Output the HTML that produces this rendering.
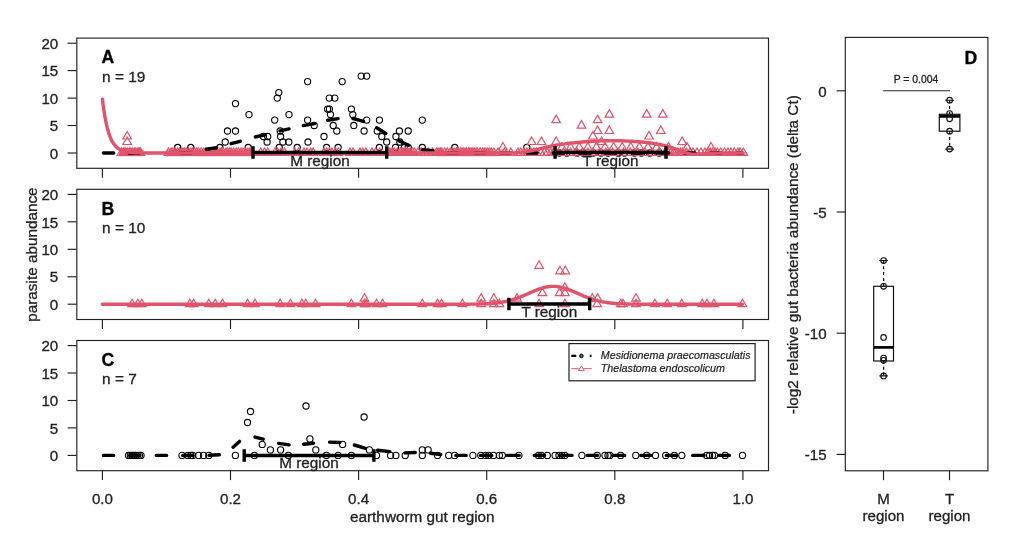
<!DOCTYPE html>
<html><head><meta charset="utf-8"><title>Figure</title>
<style>
html,body{margin:0;padding:0;background:#fff;}
svg{display:block}
text{font-family:"Liberation Sans",Arial,sans-serif;fill:#222;stroke:#222;stroke-width:0.3px}
.tk{font-size:15.1px}
.ax{font-size:15.3px}
.rg{font-size:15.3px}
.nn{font-size:15.4px}
.pl{font-size:17.6px;font-weight:bold;fill:#000;stroke:#000;stroke-width:0.3px}
.lg{font-size:10.7px;font-style:italic;stroke-width:0.2px}
.pv{font-size:10.4px}
</style></head><body>
<svg width="1024" height="552" viewBox="0 0 1024 552">
<rect width="1024" height="552" fill="#fff"/>
<rect x="76.8" y="38.1" width="691.7" height="130.2" fill="none" stroke="#222" stroke-width="1.15"/>
<line x1="67.6" y1="153.0" x2="76.8" y2="153.0" stroke="#222" stroke-width="1.15"/>
<text x="58.2" y="158.7" text-anchor="end" class="tk">0</text>
<line x1="67.6" y1="125.5" x2="76.8" y2="125.5" stroke="#222" stroke-width="1.15"/>
<text x="58.2" y="131.2" text-anchor="end" class="tk">5</text>
<line x1="67.6" y1="98.1" x2="76.8" y2="98.1" stroke="#222" stroke-width="1.15"/>
<text x="58.2" y="103.8" text-anchor="end" class="tk">10</text>
<line x1="67.6" y1="70.6" x2="76.8" y2="70.6" stroke="#222" stroke-width="1.15"/>
<text x="58.2" y="76.3" text-anchor="end" class="tk">15</text>
<line x1="67.6" y1="43.2" x2="76.8" y2="43.2" stroke="#222" stroke-width="1.15"/>
<text x="58.2" y="48.9" text-anchor="end" class="tk">20</text>
<line x1="102.4" y1="168.3" x2="102.4" y2="177.7" stroke="#222" stroke-width="1.15"/>
<line x1="230.5" y1="168.3" x2="230.5" y2="177.7" stroke="#222" stroke-width="1.15"/>
<line x1="358.6" y1="168.3" x2="358.6" y2="177.7" stroke="#222" stroke-width="1.15"/>
<line x1="486.7" y1="168.3" x2="486.7" y2="177.7" stroke="#222" stroke-width="1.15"/>
<line x1="614.8" y1="168.3" x2="614.8" y2="177.7" stroke="#222" stroke-width="1.15"/>
<line x1="742.9" y1="168.3" x2="742.9" y2="177.7" stroke="#222" stroke-width="1.15"/>
<circle cx="235.5" cy="103.6" r="3.1" fill="none" stroke="#000" stroke-width="1.1"/>
<circle cx="249.0" cy="114.6" r="3.1" fill="none" stroke="#000" stroke-width="1.1"/>
<circle cx="278.8" cy="92.6" r="3.1" fill="none" stroke="#000" stroke-width="1.1"/>
<circle cx="277.3" cy="98.1" r="3.1" fill="none" stroke="#000" stroke-width="1.1"/>
<circle cx="274.7" cy="120.1" r="3.1" fill="none" stroke="#000" stroke-width="1.1"/>
<circle cx="289.0" cy="114.6" r="3.1" fill="none" stroke="#000" stroke-width="1.1"/>
<circle cx="227.5" cy="131.0" r="3.1" fill="none" stroke="#000" stroke-width="1.1"/>
<circle cx="235.5" cy="131.0" r="3.1" fill="none" stroke="#000" stroke-width="1.1"/>
<circle cx="225.2" cy="142.0" r="3.1" fill="none" stroke="#000" stroke-width="1.1"/>
<circle cx="219.9" cy="147.5" r="3.1" fill="none" stroke="#000" stroke-width="1.1"/>
<circle cx="177.7" cy="147.5" r="3.1" fill="none" stroke="#000" stroke-width="1.1"/>
<circle cx="190.8" cy="147.5" r="3.1" fill="none" stroke="#000" stroke-width="1.1"/>
<circle cx="248.2" cy="147.5" r="3.1" fill="none" stroke="#000" stroke-width="1.1"/>
<circle cx="267.7" cy="136.5" r="3.1" fill="none" stroke="#000" stroke-width="1.1"/>
<circle cx="267.1" cy="142.0" r="3.1" fill="none" stroke="#000" stroke-width="1.1"/>
<circle cx="280.2" cy="131.0" r="3.1" fill="none" stroke="#000" stroke-width="1.1"/>
<circle cx="280.6" cy="136.5" r="3.1" fill="none" stroke="#000" stroke-width="1.1"/>
<circle cx="282.9" cy="142.0" r="3.1" fill="none" stroke="#000" stroke-width="1.1"/>
<circle cx="279.2" cy="147.5" r="3.1" fill="none" stroke="#000" stroke-width="1.1"/>
<circle cx="288.8" cy="142.0" r="3.1" fill="none" stroke="#000" stroke-width="1.1"/>
<circle cx="263.4" cy="136.5" r="3.1" fill="none" stroke="#000" stroke-width="1.1"/>
<circle cx="307.6" cy="81.6" r="3.1" fill="none" stroke="#000" stroke-width="1.1"/>
<circle cx="342.2" cy="81.6" r="3.1" fill="none" stroke="#000" stroke-width="1.1"/>
<circle cx="361.2" cy="76.1" r="3.1" fill="none" stroke="#000" stroke-width="1.1"/>
<circle cx="366.7" cy="76.1" r="3.1" fill="none" stroke="#000" stroke-width="1.1"/>
<circle cx="329.3" cy="98.1" r="3.1" fill="none" stroke="#000" stroke-width="1.1"/>
<circle cx="334.8" cy="98.1" r="3.1" fill="none" stroke="#000" stroke-width="1.1"/>
<circle cx="327.6" cy="109.1" r="3.1" fill="none" stroke="#000" stroke-width="1.1"/>
<circle cx="329.4" cy="109.1" r="3.1" fill="none" stroke="#000" stroke-width="1.1"/>
<circle cx="351.4" cy="109.1" r="3.1" fill="none" stroke="#000" stroke-width="1.1"/>
<circle cx="330.5" cy="114.6" r="3.1" fill="none" stroke="#000" stroke-width="1.1"/>
<circle cx="352.8" cy="114.6" r="3.1" fill="none" stroke="#000" stroke-width="1.1"/>
<circle cx="307.6" cy="120.1" r="3.1" fill="none" stroke="#000" stroke-width="1.1"/>
<circle cx="366.7" cy="120.1" r="3.1" fill="none" stroke="#000" stroke-width="1.1"/>
<circle cx="379.4" cy="120.1" r="3.1" fill="none" stroke="#000" stroke-width="1.1"/>
<circle cx="422.3" cy="120.1" r="3.1" fill="none" stroke="#000" stroke-width="1.1"/>
<circle cx="314.2" cy="125.5" r="3.1" fill="none" stroke="#000" stroke-width="1.1"/>
<circle cx="333.2" cy="125.5" r="3.1" fill="none" stroke="#000" stroke-width="1.1"/>
<circle cx="353.8" cy="125.5" r="3.1" fill="none" stroke="#000" stroke-width="1.1"/>
<circle cx="336.8" cy="131.0" r="3.1" fill="none" stroke="#000" stroke-width="1.1"/>
<circle cx="364.1" cy="131.0" r="3.1" fill="none" stroke="#000" stroke-width="1.1"/>
<circle cx="377.3" cy="131.0" r="3.1" fill="none" stroke="#000" stroke-width="1.1"/>
<circle cx="399.4" cy="131.0" r="3.1" fill="none" stroke="#000" stroke-width="1.1"/>
<circle cx="408.2" cy="131.0" r="3.1" fill="none" stroke="#000" stroke-width="1.1"/>
<circle cx="324.0" cy="136.5" r="3.1" fill="none" stroke="#000" stroke-width="1.1"/>
<circle cx="381.8" cy="136.5" r="3.1" fill="none" stroke="#000" stroke-width="1.1"/>
<circle cx="395.9" cy="136.5" r="3.1" fill="none" stroke="#000" stroke-width="1.1"/>
<circle cx="308.0" cy="142.0" r="3.1" fill="none" stroke="#000" stroke-width="1.1"/>
<circle cx="386.7" cy="142.0" r="3.1" fill="none" stroke="#000" stroke-width="1.1"/>
<circle cx="399.8" cy="142.0" r="3.1" fill="none" stroke="#000" stroke-width="1.1"/>
<circle cx="297.2" cy="147.5" r="3.1" fill="none" stroke="#000" stroke-width="1.1"/>
<circle cx="326.6" cy="147.5" r="3.1" fill="none" stroke="#000" stroke-width="1.1"/>
<circle cx="338.1" cy="147.5" r="3.1" fill="none" stroke="#000" stroke-width="1.1"/>
<circle cx="379.4" cy="147.5" r="3.1" fill="none" stroke="#000" stroke-width="1.1"/>
<circle cx="395.5" cy="147.5" r="3.1" fill="none" stroke="#000" stroke-width="1.1"/>
<circle cx="404.3" cy="147.5" r="3.1" fill="none" stroke="#000" stroke-width="1.1"/>
<circle cx="408.2" cy="147.5" r="3.1" fill="none" stroke="#000" stroke-width="1.1"/>
<circle cx="422.3" cy="147.5" r="3.1" fill="none" stroke="#000" stroke-width="1.1"/>
<circle cx="454.8" cy="147.5" r="3.1" fill="none" stroke="#000" stroke-width="1.1"/>
<circle cx="526.8" cy="147.5" r="3.1" fill="none" stroke="#000" stroke-width="1.1"/>
<circle cx="559.3" cy="153.0" r="3.1" fill="none" stroke="#000" stroke-width="1.1"/>
<circle cx="566.9" cy="153.0" r="3.1" fill="none" stroke="#000" stroke-width="1.1"/>
<circle cx="577.2" cy="153.0" r="3.1" fill="none" stroke="#000" stroke-width="1.1"/>
<circle cx="583.2" cy="153.0" r="3.1" fill="none" stroke="#000" stroke-width="1.1"/>
<circle cx="593.3" cy="153.0" r="3.1" fill="none" stroke="#000" stroke-width="1.1"/>
<circle cx="601.0" cy="153.0" r="3.1" fill="none" stroke="#000" stroke-width="1.1"/>
<circle cx="608.0" cy="153.0" r="3.1" fill="none" stroke="#000" stroke-width="1.1"/>
<circle cx="618.1" cy="153.0" r="3.1" fill="none" stroke="#000" stroke-width="1.1"/>
<circle cx="624.5" cy="153.0" r="3.1" fill="none" stroke="#000" stroke-width="1.1"/>
<circle cx="634.4" cy="153.0" r="3.1" fill="none" stroke="#000" stroke-width="1.1"/>
<circle cx="641.3" cy="153.0" r="3.1" fill="none" stroke="#000" stroke-width="1.1"/>
<circle cx="649.7" cy="153.0" r="3.1" fill="none" stroke="#000" stroke-width="1.1"/>
<circle cx="659.3" cy="153.0" r="3.1" fill="none" stroke="#000" stroke-width="1.1"/>
<rect x="119.5" y="150.0" width="24.0" height="6.2" fill="#DF536B" opacity="0.9"/>
<rect x="166" y="150.2" width="87.0" height="6.0" fill="#DF536B" opacity="0.85"/>
<rect x="388" y="151.0" width="29.0" height="5.0" fill="#DF536B" opacity="0.8"/>
<rect x="437" y="150.6" width="59.0" height="5.6" fill="#DF536B" opacity="0.85"/>
<rect x="668" y="152.0" width="79.0" height="4.0" fill="#DF536B" opacity="0.6"/>
<path d="M121.5 148.0L125.8 155.5L117.2 155.5Z" fill="none" stroke="#DF536B" stroke-width="1.2"/>
<path d="M123.3 148.0L127.7 155.5L119.0 155.5Z" fill="none" stroke="#DF536B" stroke-width="1.2"/>
<path d="M124.5 148.0L128.8 155.5L120.1 155.5Z" fill="none" stroke="#DF536B" stroke-width="1.2"/>
<path d="M125.7 148.0L130.0 155.5L121.3 155.5Z" fill="none" stroke="#DF536B" stroke-width="1.2"/>
<path d="M127.3 148.0L131.6 155.5L123.0 155.5Z" fill="none" stroke="#DF536B" stroke-width="1.2"/>
<path d="M129.2 148.0L133.6 155.5L124.9 155.5Z" fill="none" stroke="#DF536B" stroke-width="1.2"/>
<path d="M130.8 148.0L135.2 155.5L126.5 155.5Z" fill="none" stroke="#DF536B" stroke-width="1.2"/>
<path d="M132.2 148.0L136.6 155.5L127.9 155.5Z" fill="none" stroke="#DF536B" stroke-width="1.2"/>
<path d="M134.2 148.0L138.5 155.5L129.9 155.5Z" fill="none" stroke="#DF536B" stroke-width="1.2"/>
<path d="M135.2 148.0L139.6 155.5L130.9 155.5Z" fill="none" stroke="#DF536B" stroke-width="1.2"/>
<path d="M137.1 148.0L141.4 155.5L132.8 155.5Z" fill="none" stroke="#DF536B" stroke-width="1.2"/>
<path d="M138.4 148.0L142.7 155.5L134.1 155.5Z" fill="none" stroke="#DF536B" stroke-width="1.2"/>
<path d="M139.5 148.0L143.9 155.5L135.2 155.5Z" fill="none" stroke="#DF536B" stroke-width="1.2"/>
<path d="M140.7 148.0L145.0 155.5L136.3 155.5Z" fill="none" stroke="#DF536B" stroke-width="1.2"/>
<path d="M168.5 148.0L172.8 155.5L164.2 155.5Z" fill="none" stroke="#DF536B" stroke-width="1.2"/>
<path d="M171.2 148.0L175.5 155.5L166.9 155.5Z" fill="none" stroke="#DF536B" stroke-width="1.2"/>
<path d="M172.8 148.0L177.1 155.5L168.5 155.5Z" fill="none" stroke="#DF536B" stroke-width="1.2"/>
<path d="M175.1 148.0L179.4 155.5L170.8 155.5Z" fill="none" stroke="#DF536B" stroke-width="1.2"/>
<path d="M177.5 148.0L181.8 155.5L173.1 155.5Z" fill="none" stroke="#DF536B" stroke-width="1.2"/>
<path d="M179.4 148.0L183.7 155.5L175.1 155.5Z" fill="none" stroke="#DF536B" stroke-width="1.2"/>
<path d="M181.6 148.0L186.0 155.5L177.3 155.5Z" fill="none" stroke="#DF536B" stroke-width="1.2"/>
<path d="M183.0 148.0L187.4 155.5L178.7 155.5Z" fill="none" stroke="#DF536B" stroke-width="1.2"/>
<path d="M184.4 148.0L188.8 155.5L180.1 155.5Z" fill="none" stroke="#DF536B" stroke-width="1.2"/>
<path d="M186.1 148.0L190.4 155.5L181.8 155.5Z" fill="none" stroke="#DF536B" stroke-width="1.2"/>
<path d="M188.5 148.0L192.9 155.5L184.2 155.5Z" fill="none" stroke="#DF536B" stroke-width="1.2"/>
<path d="M190.6 148.0L194.9 155.5L186.2 155.5Z" fill="none" stroke="#DF536B" stroke-width="1.2"/>
<path d="M192.4 148.0L196.7 155.5L188.1 155.5Z" fill="none" stroke="#DF536B" stroke-width="1.2"/>
<path d="M194.7 148.0L199.0 155.5L190.4 155.5Z" fill="none" stroke="#DF536B" stroke-width="1.2"/>
<path d="M196.8 148.0L201.1 155.5L192.4 155.5Z" fill="none" stroke="#DF536B" stroke-width="1.2"/>
<path d="M198.6 148.0L202.9 155.5L194.3 155.5Z" fill="none" stroke="#DF536B" stroke-width="1.2"/>
<path d="M201.2 148.0L205.6 155.5L196.9 155.5Z" fill="none" stroke="#DF536B" stroke-width="1.2"/>
<path d="M203.7 148.0L208.1 155.5L199.4 155.5Z" fill="none" stroke="#DF536B" stroke-width="1.2"/>
<path d="M205.4 148.0L209.8 155.5L201.1 155.5Z" fill="none" stroke="#DF536B" stroke-width="1.2"/>
<path d="M207.7 148.0L212.0 155.5L203.4 155.5Z" fill="none" stroke="#DF536B" stroke-width="1.2"/>
<path d="M209.9 148.0L214.2 155.5L205.6 155.5Z" fill="none" stroke="#DF536B" stroke-width="1.2"/>
<path d="M212.7 148.0L217.0 155.5L208.4 155.5Z" fill="none" stroke="#DF536B" stroke-width="1.2"/>
<path d="M215.2 148.0L219.6 155.5L210.9 155.5Z" fill="none" stroke="#DF536B" stroke-width="1.2"/>
<path d="M217.0 148.0L221.4 155.5L212.7 155.5Z" fill="none" stroke="#DF536B" stroke-width="1.2"/>
<path d="M220.0 148.0L224.3 155.5L215.7 155.5Z" fill="none" stroke="#DF536B" stroke-width="1.2"/>
<path d="M221.5 148.0L225.8 155.5L217.2 155.5Z" fill="none" stroke="#DF536B" stroke-width="1.2"/>
<path d="M223.5 148.0L227.8 155.5L219.2 155.5Z" fill="none" stroke="#DF536B" stroke-width="1.2"/>
<path d="M226.1 148.0L230.4 155.5L221.8 155.5Z" fill="none" stroke="#DF536B" stroke-width="1.2"/>
<path d="M227.6 148.0L232.0 155.5L223.3 155.5Z" fill="none" stroke="#DF536B" stroke-width="1.2"/>
<path d="M229.8 148.0L234.1 155.5L225.4 155.5Z" fill="none" stroke="#DF536B" stroke-width="1.2"/>
<path d="M231.1 148.0L235.5 155.5L226.8 155.5Z" fill="none" stroke="#DF536B" stroke-width="1.2"/>
<path d="M233.6 148.0L237.9 155.5L229.3 155.5Z" fill="none" stroke="#DF536B" stroke-width="1.2"/>
<path d="M236.2 148.0L240.5 155.5L231.9 155.5Z" fill="none" stroke="#DF536B" stroke-width="1.2"/>
<path d="M238.5 148.0L242.8 155.5L234.1 155.5Z" fill="none" stroke="#DF536B" stroke-width="1.2"/>
<path d="M241.2 148.0L245.6 155.5L236.9 155.5Z" fill="none" stroke="#DF536B" stroke-width="1.2"/>
<path d="M243.1 148.0L247.4 155.5L238.7 155.5Z" fill="none" stroke="#DF536B" stroke-width="1.2"/>
<path d="M245.6 148.0L249.9 155.5L241.2 155.5Z" fill="none" stroke="#DF536B" stroke-width="1.2"/>
<path d="M247.9 148.0L252.2 155.5L243.5 155.5Z" fill="none" stroke="#DF536B" stroke-width="1.2"/>
<path d="M250.2 148.0L254.5 155.5L245.8 155.5Z" fill="none" stroke="#DF536B" stroke-width="1.2"/>
<path d="M252.2 148.0L256.6 155.5L247.9 155.5Z" fill="none" stroke="#DF536B" stroke-width="1.2"/>
<path d="M260.6 148.0L264.9 155.5L256.3 155.5Z" fill="none" stroke="#DF536B" stroke-width="1.2"/>
<path d="M264.5 148.0L268.8 155.5L260.2 155.5Z" fill="none" stroke="#DF536B" stroke-width="1.2"/>
<path d="M267.7 148.0L272.1 155.5L263.4 155.5Z" fill="none" stroke="#DF536B" stroke-width="1.2"/>
<path d="M275.0 148.0L279.3 155.5L270.7 155.5Z" fill="none" stroke="#DF536B" stroke-width="1.2"/>
<path d="M277.6 148.0L281.9 155.5L273.3 155.5Z" fill="none" stroke="#DF536B" stroke-width="1.2"/>
<path d="M281.1 148.0L285.5 155.5L276.8 155.5Z" fill="none" stroke="#DF536B" stroke-width="1.2"/>
<path d="M284.6 148.0L288.9 155.5L280.3 155.5Z" fill="none" stroke="#DF536B" stroke-width="1.2"/>
<path d="M295.0 148.0L299.3 155.5L290.7 155.5Z" fill="none" stroke="#DF536B" stroke-width="1.2"/>
<path d="M298.7 148.0L303.1 155.5L294.4 155.5Z" fill="none" stroke="#DF536B" stroke-width="1.2"/>
<path d="M304.0 148.0L308.3 155.5L299.7 155.5Z" fill="none" stroke="#DF536B" stroke-width="1.2"/>
<path d="M307.1 148.0L311.4 155.5L302.7 155.5Z" fill="none" stroke="#DF536B" stroke-width="1.2"/>
<path d="M310.6 148.0L314.9 155.5L306.3 155.5Z" fill="none" stroke="#DF536B" stroke-width="1.2"/>
<path d="M313.1 148.0L317.4 155.5L308.8 155.5Z" fill="none" stroke="#DF536B" stroke-width="1.2"/>
<path d="M324.0 148.0L328.3 155.5L319.7 155.5Z" fill="none" stroke="#DF536B" stroke-width="1.2"/>
<path d="M326.8 148.0L331.1 155.5L322.4 155.5Z" fill="none" stroke="#DF536B" stroke-width="1.2"/>
<path d="M329.4 148.0L333.8 155.5L325.1 155.5Z" fill="none" stroke="#DF536B" stroke-width="1.2"/>
<path d="M332.0 148.0L336.3 155.5L327.7 155.5Z" fill="none" stroke="#DF536B" stroke-width="1.2"/>
<path d="M335.7 148.0L340.0 155.5L331.3 155.5Z" fill="none" stroke="#DF536B" stroke-width="1.2"/>
<path d="M338.4 148.0L342.7 155.5L334.0 155.5Z" fill="none" stroke="#DF536B" stroke-width="1.2"/>
<path d="M350.0 148.0L354.3 155.5L345.7 155.5Z" fill="none" stroke="#DF536B" stroke-width="1.2"/>
<path d="M353.1 148.0L357.4 155.5L348.8 155.5Z" fill="none" stroke="#DF536B" stroke-width="1.2"/>
<path d="M360.0 148.0L364.3 155.5L355.7 155.5Z" fill="none" stroke="#DF536B" stroke-width="1.2"/>
<path d="M362.6 148.0L367.0 155.5L358.3 155.5Z" fill="none" stroke="#DF536B" stroke-width="1.2"/>
<path d="M365.8 148.0L370.1 155.5L361.5 155.5Z" fill="none" stroke="#DF536B" stroke-width="1.2"/>
<path d="M372.0 148.0L376.3 155.5L367.7 155.5Z" fill="none" stroke="#DF536B" stroke-width="1.2"/>
<path d="M375.8 148.0L380.2 155.5L371.5 155.5Z" fill="none" stroke="#DF536B" stroke-width="1.2"/>
<path d="M379.6 148.0L383.9 155.5L375.2 155.5Z" fill="none" stroke="#DF536B" stroke-width="1.2"/>
<path d="M388.0 148.0L392.3 155.5L383.7 155.5Z" fill="none" stroke="#DF536B" stroke-width="1.2"/>
<path d="M390.0 148.0L394.3 155.5L385.6 155.5Z" fill="none" stroke="#DF536B" stroke-width="1.2"/>
<path d="M392.2 148.0L396.5 155.5L387.8 155.5Z" fill="none" stroke="#DF536B" stroke-width="1.2"/>
<path d="M394.3 148.0L398.6 155.5L390.0 155.5Z" fill="none" stroke="#DF536B" stroke-width="1.2"/>
<path d="M397.3 148.0L401.6 155.5L393.0 155.5Z" fill="none" stroke="#DF536B" stroke-width="1.2"/>
<path d="M400.4 148.0L404.8 155.5L396.1 155.5Z" fill="none" stroke="#DF536B" stroke-width="1.2"/>
<path d="M402.2 148.0L406.5 155.5L397.8 155.5Z" fill="none" stroke="#DF536B" stroke-width="1.2"/>
<path d="M404.0 148.0L408.3 155.5L399.6 155.5Z" fill="none" stroke="#DF536B" stroke-width="1.2"/>
<path d="M405.9 148.0L410.2 155.5L401.5 155.5Z" fill="none" stroke="#DF536B" stroke-width="1.2"/>
<path d="M407.8 148.0L412.1 155.5L403.4 155.5Z" fill="none" stroke="#DF536B" stroke-width="1.2"/>
<path d="M410.1 148.0L414.4 155.5L405.8 155.5Z" fill="none" stroke="#DF536B" stroke-width="1.2"/>
<path d="M412.6 148.0L416.9 155.5L408.3 155.5Z" fill="none" stroke="#DF536B" stroke-width="1.2"/>
<path d="M414.5 148.0L418.9 155.5L410.2 155.5Z" fill="none" stroke="#DF536B" stroke-width="1.2"/>
<path d="M418.0 148.0L422.3 155.5L413.7 155.5Z" fill="none" stroke="#DF536B" stroke-width="1.2"/>
<path d="M421.3 148.0L425.7 155.5L417.0 155.5Z" fill="none" stroke="#DF536B" stroke-width="1.2"/>
<path d="M424.6 148.0L428.9 155.5L420.2 155.5Z" fill="none" stroke="#DF536B" stroke-width="1.2"/>
<path d="M428.2 148.0L432.5 155.5L423.9 155.5Z" fill="none" stroke="#DF536B" stroke-width="1.2"/>
<path d="M432.6 148.0L436.9 155.5L428.3 155.5Z" fill="none" stroke="#DF536B" stroke-width="1.2"/>
<path d="M436.5 148.0L440.8 155.5L432.2 155.5Z" fill="none" stroke="#DF536B" stroke-width="1.2"/>
<path d="M440.0 148.0L444.4 155.5L435.7 155.5Z" fill="none" stroke="#DF536B" stroke-width="1.2"/>
<path d="M438.0 148.0L442.3 155.5L433.7 155.5Z" fill="none" stroke="#DF536B" stroke-width="1.2"/>
<path d="M440.4 148.0L444.8 155.5L436.1 155.5Z" fill="none" stroke="#DF536B" stroke-width="1.2"/>
<path d="M441.8 148.0L446.2 155.5L437.5 155.5Z" fill="none" stroke="#DF536B" stroke-width="1.2"/>
<path d="M444.7 148.0L449.0 155.5L440.3 155.5Z" fill="none" stroke="#DF536B" stroke-width="1.2"/>
<path d="M447.3 148.0L451.6 155.5L443.0 155.5Z" fill="none" stroke="#DF536B" stroke-width="1.2"/>
<path d="M450.1 148.0L454.4 155.5L445.8 155.5Z" fill="none" stroke="#DF536B" stroke-width="1.2"/>
<path d="M452.7 148.0L457.1 155.5L448.4 155.5Z" fill="none" stroke="#DF536B" stroke-width="1.2"/>
<path d="M454.7 148.0L459.0 155.5L450.4 155.5Z" fill="none" stroke="#DF536B" stroke-width="1.2"/>
<path d="M456.7 148.0L461.0 155.5L452.4 155.5Z" fill="none" stroke="#DF536B" stroke-width="1.2"/>
<path d="M458.2 148.0L462.5 155.5L453.8 155.5Z" fill="none" stroke="#DF536B" stroke-width="1.2"/>
<path d="M460.5 148.0L464.9 155.5L456.2 155.5Z" fill="none" stroke="#DF536B" stroke-width="1.2"/>
<path d="M461.9 148.0L466.3 155.5L457.6 155.5Z" fill="none" stroke="#DF536B" stroke-width="1.2"/>
<path d="M463.4 148.0L467.7 155.5L459.0 155.5Z" fill="none" stroke="#DF536B" stroke-width="1.2"/>
<path d="M465.0 148.0L469.3 155.5L460.7 155.5Z" fill="none" stroke="#DF536B" stroke-width="1.2"/>
<path d="M466.6 148.0L470.9 155.5L462.3 155.5Z" fill="none" stroke="#DF536B" stroke-width="1.2"/>
<path d="M468.5 148.0L472.8 155.5L464.1 155.5Z" fill="none" stroke="#DF536B" stroke-width="1.2"/>
<path d="M469.9 148.0L474.2 155.5L465.5 155.5Z" fill="none" stroke="#DF536B" stroke-width="1.2"/>
<path d="M471.2 148.0L475.5 155.5L466.8 155.5Z" fill="none" stroke="#DF536B" stroke-width="1.2"/>
<path d="M472.7 148.0L477.0 155.5L468.4 155.5Z" fill="none" stroke="#DF536B" stroke-width="1.2"/>
<path d="M474.2 148.0L478.5 155.5L469.9 155.5Z" fill="none" stroke="#DF536B" stroke-width="1.2"/>
<path d="M476.1 148.0L480.4 155.5L471.8 155.5Z" fill="none" stroke="#DF536B" stroke-width="1.2"/>
<path d="M477.4 148.0L481.8 155.5L473.1 155.5Z" fill="none" stroke="#DF536B" stroke-width="1.2"/>
<path d="M480.2 148.0L484.6 155.5L475.9 155.5Z" fill="none" stroke="#DF536B" stroke-width="1.2"/>
<path d="M482.6 148.0L486.9 155.5L478.2 155.5Z" fill="none" stroke="#DF536B" stroke-width="1.2"/>
<path d="M484.1 148.0L488.5 155.5L479.8 155.5Z" fill="none" stroke="#DF536B" stroke-width="1.2"/>
<path d="M485.9 148.0L490.2 155.5L481.5 155.5Z" fill="none" stroke="#DF536B" stroke-width="1.2"/>
<path d="M487.8 148.0L492.1 155.5L483.4 155.5Z" fill="none" stroke="#DF536B" stroke-width="1.2"/>
<path d="M489.7 148.0L494.0 155.5L485.3 155.5Z" fill="none" stroke="#DF536B" stroke-width="1.2"/>
<path d="M491.2 148.0L495.5 155.5L486.8 155.5Z" fill="none" stroke="#DF536B" stroke-width="1.2"/>
<path d="M493.9 148.0L498.3 155.5L489.6 155.5Z" fill="none" stroke="#DF536B" stroke-width="1.2"/>
<path d="M498.0 148.0L502.3 155.5L493.7 155.5Z" fill="none" stroke="#DF536B" stroke-width="1.2"/>
<path d="M504.4 148.0L508.7 155.5L500.1 155.5Z" fill="none" stroke="#DF536B" stroke-width="1.2"/>
<path d="M510.8 148.0L515.2 155.5L506.5 155.5Z" fill="none" stroke="#DF536B" stroke-width="1.2"/>
<path d="M518.0 148.0L522.3 155.5L513.7 155.5Z" fill="none" stroke="#DF536B" stroke-width="1.2"/>
<path d="M520.7 148.0L525.0 155.5L516.4 155.5Z" fill="none" stroke="#DF536B" stroke-width="1.2"/>
<path d="M523.9 148.0L528.2 155.5L519.6 155.5Z" fill="none" stroke="#DF536B" stroke-width="1.2"/>
<path d="M526.9 148.0L531.2 155.5L522.6 155.5Z" fill="none" stroke="#DF536B" stroke-width="1.2"/>
<path d="M531.1 148.0L535.4 155.5L526.7 155.5Z" fill="none" stroke="#DF536B" stroke-width="1.2"/>
<path d="M533.9 148.0L538.2 155.5L529.6 155.5Z" fill="none" stroke="#DF536B" stroke-width="1.2"/>
<path d="M536.4 148.0L540.8 155.5L532.1 155.5Z" fill="none" stroke="#DF536B" stroke-width="1.2"/>
<path d="M540.8 148.0L545.2 155.5L536.5 155.5Z" fill="none" stroke="#DF536B" stroke-width="1.2"/>
<path d="M544.4 148.0L548.7 155.5L540.1 155.5Z" fill="none" stroke="#DF536B" stroke-width="1.2"/>
<path d="M547.2 148.0L551.5 155.5L542.9 155.5Z" fill="none" stroke="#DF536B" stroke-width="1.2"/>
<path d="M550.8 148.0L555.1 155.5L546.5 155.5Z" fill="none" stroke="#DF536B" stroke-width="1.2"/>
<path d="M553.3 148.0L557.7 155.5L549.0 155.5Z" fill="none" stroke="#DF536B" stroke-width="1.2"/>
<path d="M556.0 148.0L560.3 155.5L551.7 155.5Z" fill="none" stroke="#DF536B" stroke-width="1.2"/>
<path d="M563.4 148.0L567.8 155.5L559.1 155.5Z" fill="none" stroke="#DF536B" stroke-width="1.2"/>
<path d="M570.5 148.0L574.9 155.5L566.2 155.5Z" fill="none" stroke="#DF536B" stroke-width="1.2"/>
<path d="M577.1 148.0L581.4 155.5L572.8 155.5Z" fill="none" stroke="#DF536B" stroke-width="1.2"/>
<path d="M582.4 148.0L586.7 155.5L578.1 155.5Z" fill="none" stroke="#DF536B" stroke-width="1.2"/>
<path d="M588.0 148.0L592.3 155.5L583.7 155.5Z" fill="none" stroke="#DF536B" stroke-width="1.2"/>
<path d="M593.0 148.0L597.3 155.5L588.7 155.5Z" fill="none" stroke="#DF536B" stroke-width="1.2"/>
<path d="M599.8 148.0L604.1 155.5L595.5 155.5Z" fill="none" stroke="#DF536B" stroke-width="1.2"/>
<path d="M605.9 148.0L610.2 155.5L601.6 155.5Z" fill="none" stroke="#DF536B" stroke-width="1.2"/>
<path d="M612.7 148.0L617.1 155.5L608.4 155.5Z" fill="none" stroke="#DF536B" stroke-width="1.2"/>
<path d="M618.2 148.0L622.6 155.5L613.9 155.5Z" fill="none" stroke="#DF536B" stroke-width="1.2"/>
<path d="M623.4 148.0L627.7 155.5L619.1 155.5Z" fill="none" stroke="#DF536B" stroke-width="1.2"/>
<path d="M630.3 148.0L634.7 155.5L626.0 155.5Z" fill="none" stroke="#DF536B" stroke-width="1.2"/>
<path d="M637.8 148.0L642.1 155.5L633.5 155.5Z" fill="none" stroke="#DF536B" stroke-width="1.2"/>
<path d="M644.9 148.0L649.2 155.5L640.5 155.5Z" fill="none" stroke="#DF536B" stroke-width="1.2"/>
<path d="M651.8 148.0L656.1 155.5L647.4 155.5Z" fill="none" stroke="#DF536B" stroke-width="1.2"/>
<path d="M658.7 148.0L663.1 155.5L654.4 155.5Z" fill="none" stroke="#DF536B" stroke-width="1.2"/>
<path d="M665.4 148.0L669.8 155.5L661.1 155.5Z" fill="none" stroke="#DF536B" stroke-width="1.2"/>
<path d="M668.0 148.0L672.3 155.5L663.7 155.5Z" fill="none" stroke="#DF536B" stroke-width="1.2"/>
<path d="M671.0 148.0L675.4 155.5L666.7 155.5Z" fill="none" stroke="#DF536B" stroke-width="1.2"/>
<path d="M673.7 148.0L678.1 155.5L669.4 155.5Z" fill="none" stroke="#DF536B" stroke-width="1.2"/>
<path d="M675.8 148.0L680.1 155.5L671.5 155.5Z" fill="none" stroke="#DF536B" stroke-width="1.2"/>
<path d="M677.9 148.0L682.2 155.5L673.5 155.5Z" fill="none" stroke="#DF536B" stroke-width="1.2"/>
<path d="M680.4 148.0L684.7 155.5L676.1 155.5Z" fill="none" stroke="#DF536B" stroke-width="1.2"/>
<path d="M682.9 148.0L687.3 155.5L678.6 155.5Z" fill="none" stroke="#DF536B" stroke-width="1.2"/>
<path d="M686.3 148.0L690.7 155.5L682.0 155.5Z" fill="none" stroke="#DF536B" stroke-width="1.2"/>
<path d="M690.2 148.0L694.6 155.5L685.9 155.5Z" fill="none" stroke="#DF536B" stroke-width="1.2"/>
<path d="M693.1 148.0L697.5 155.5L688.8 155.5Z" fill="none" stroke="#DF536B" stroke-width="1.2"/>
<path d="M697.0 148.0L701.3 155.5L692.7 155.5Z" fill="none" stroke="#DF536B" stroke-width="1.2"/>
<path d="M701.0 148.0L705.3 155.5L696.7 155.5Z" fill="none" stroke="#DF536B" stroke-width="1.2"/>
<path d="M704.9 148.0L709.2 155.5L700.6 155.5Z" fill="none" stroke="#DF536B" stroke-width="1.2"/>
<path d="M707.6 148.0L711.9 155.5L703.3 155.5Z" fill="none" stroke="#DF536B" stroke-width="1.2"/>
<path d="M710.1 148.0L714.4 155.5L705.7 155.5Z" fill="none" stroke="#DF536B" stroke-width="1.2"/>
<path d="M712.5 148.0L716.8 155.5L708.2 155.5Z" fill="none" stroke="#DF536B" stroke-width="1.2"/>
<path d="M714.9 148.0L719.2 155.5L710.6 155.5Z" fill="none" stroke="#DF536B" stroke-width="1.2"/>
<path d="M717.3 148.0L721.6 155.5L713.0 155.5Z" fill="none" stroke="#DF536B" stroke-width="1.2"/>
<path d="M720.6 148.0L724.9 155.5L716.2 155.5Z" fill="none" stroke="#DF536B" stroke-width="1.2"/>
<path d="M724.4 148.0L728.7 155.5L720.0 155.5Z" fill="none" stroke="#DF536B" stroke-width="1.2"/>
<path d="M728.0 148.0L732.4 155.5L723.7 155.5Z" fill="none" stroke="#DF536B" stroke-width="1.2"/>
<path d="M731.0 148.0L735.3 155.5L726.7 155.5Z" fill="none" stroke="#DF536B" stroke-width="1.2"/>
<path d="M734.3 148.0L738.6 155.5L730.0 155.5Z" fill="none" stroke="#DF536B" stroke-width="1.2"/>
<path d="M737.9 148.0L742.2 155.5L733.6 155.5Z" fill="none" stroke="#DF536B" stroke-width="1.2"/>
<path d="M740.1 148.0L744.4 155.5L735.7 155.5Z" fill="none" stroke="#DF536B" stroke-width="1.2"/>
<path d="M743.4 148.0L747.7 155.5L739.1 155.5Z" fill="none" stroke="#DF536B" stroke-width="1.2"/>
<path d="M127.2 131.5L131.5 139.0L122.9 139.0Z" fill="none" stroke="#DF536B" stroke-width="1.2"/>
<path d="M127.2 137.0L131.5 144.5L122.9 144.5Z" fill="none" stroke="#DF536B" stroke-width="1.2"/>
<path d="M556.1 115.1L560.4 122.6L551.8 122.6Z" fill="none" stroke="#DF536B" stroke-width="1.2"/>
<path d="M609.3 109.6L613.6 117.1L605.0 117.1Z" fill="none" stroke="#DF536B" stroke-width="1.2"/>
<path d="M646.7 109.6L651.0 117.1L642.4 117.1Z" fill="none" stroke="#DF536B" stroke-width="1.2"/>
<path d="M662.8 109.6L667.1 117.1L658.5 117.1Z" fill="none" stroke="#DF536B" stroke-width="1.2"/>
<path d="M581.5 120.5L585.8 128.1L577.2 128.1Z" fill="none" stroke="#DF536B" stroke-width="1.2"/>
<path d="M597.6 115.1L601.9 122.6L593.3 122.6Z" fill="none" stroke="#DF536B" stroke-width="1.2"/>
<path d="M597.6 126.0L601.9 133.5L593.3 133.5Z" fill="none" stroke="#DF536B" stroke-width="1.2"/>
<path d="M609.3 126.0L613.6 133.5L605.0 133.5Z" fill="none" stroke="#DF536B" stroke-width="1.2"/>
<path d="M660.8 126.0L665.1 133.5L656.5 133.5Z" fill="none" stroke="#DF536B" stroke-width="1.2"/>
<path d="M592.9 131.5L597.2 139.0L588.6 139.0Z" fill="none" stroke="#DF536B" stroke-width="1.2"/>
<path d="M649.0 131.5L653.3 139.0L644.7 139.0Z" fill="none" stroke="#DF536B" stroke-width="1.2"/>
<path d="M531.6 137.0L535.9 144.5L527.3 144.5Z" fill="none" stroke="#DF536B" stroke-width="1.2"/>
<path d="M541.4 137.0L545.7 144.5L537.1 144.5Z" fill="none" stroke="#DF536B" stroke-width="1.2"/>
<path d="M556.1 137.0L560.4 144.5L551.8 144.5Z" fill="none" stroke="#DF536B" stroke-width="1.2"/>
<path d="M601.5 137.0L605.8 144.5L597.2 144.5Z" fill="none" stroke="#DF536B" stroke-width="1.2"/>
<path d="M682.2 137.0L686.5 144.5L677.9 144.5Z" fill="none" stroke="#DF536B" stroke-width="1.2"/>
<path d="M502.9 142.5L507.2 150.0L498.6 150.0Z" fill="none" stroke="#DF536B" stroke-width="1.2"/>
<path d="M668.5 142.5L672.8 150.0L664.2 150.0Z" fill="none" stroke="#DF536B" stroke-width="1.2"/>
<path d="M687.0 142.5L691.3 150.0L682.7 150.0Z" fill="none" stroke="#DF536B" stroke-width="1.2"/>
<path d="M711.0 142.5L715.3 150.0L706.7 150.0Z" fill="none" stroke="#DF536B" stroke-width="1.2"/>
<path d="M562.0 142.5L566.3 150.0L557.7 150.0Z" fill="none" stroke="#DF536B" stroke-width="1.2"/>
<path d="M570.6 142.5L574.9 150.0L566.3 150.0Z" fill="none" stroke="#DF536B" stroke-width="1.2"/>
<path d="M579.2 142.5L583.5 150.0L574.9 150.0Z" fill="none" stroke="#DF536B" stroke-width="1.2"/>
<path d="M587.8 142.5L592.1 150.0L583.5 150.0Z" fill="none" stroke="#DF536B" stroke-width="1.2"/>
<path d="M596.4 142.5L600.7 150.0L592.1 150.0Z" fill="none" stroke="#DF536B" stroke-width="1.2"/>
<path d="M605.0 142.5L609.3 150.0L600.7 150.0Z" fill="none" stroke="#DF536B" stroke-width="1.2"/>
<path d="M613.6 142.5L617.9 150.0L609.3 150.0Z" fill="none" stroke="#DF536B" stroke-width="1.2"/>
<path d="M622.2 142.5L626.5 150.0L617.9 150.0Z" fill="none" stroke="#DF536B" stroke-width="1.2"/>
<path d="M630.8 142.5L635.1 150.0L626.5 150.0Z" fill="none" stroke="#DF536B" stroke-width="1.2"/>
<path d="M639.4 142.5L643.7 150.0L635.1 150.0Z" fill="none" stroke="#DF536B" stroke-width="1.2"/>
<path d="M648.0 142.5L652.3 150.0L643.7 150.0Z" fill="none" stroke="#DF536B" stroke-width="1.2"/>
<path d="M656.6 142.5L660.9 150.0L652.3 150.0Z" fill="none" stroke="#DF536B" stroke-width="1.2"/>
<path d="M103.4 153.0L113.7 153.0M129.2 153.0L139.5 153.0M180.7 153.0L191.0 153.0M206.4 149.3L216.6 147.7M231.1 143.7L240.2 141.3M255.3 137.0L264.9 134.9M280.0 130.9L289.0 128.9M303.3 125.6L314.5 123.6M327.7 120.2L338.0 118.6M353.0 118.5L363.5 121.4M376.7 127.7L385.8 133.4M398.9 140.8L408.6 145.3M422.6 149.8L432.9 150.8M447.9 153.0L458.2 153.0M474.2 153.0L484.5 153.0M500.5 153.0L510.8 153.0M526.7 153.0L537.0 153.0M553.0 153.0L563.3 153.0M579.4 153.0L589.7 153.0M605.7 153.0L616.0 153.0M632.0 153.0L642.3 153.0M658.4 153.0L668.7 153.0M684.7 153.0L695.0 153.0M711.0 153.0L721.3 153.0M737.3 153.0L742.3 153.0" fill="none" stroke="#000" stroke-width="3.4" stroke-linecap="round"/>
<path d="M102.4 99.2L103.2 105.5L104.0 111.1L104.8 116.0L105.6 120.4L106.4 124.2L107.2 127.6L108.0 130.6L108.8 133.2L109.6 135.5L110.4 137.6L111.2 139.4L112.0 141.0L112.8 142.4L113.6 143.7L114.4 144.7L115.2 145.7L116.0 146.6L116.8 147.3L117.6 148.0L118.4 148.6L119.2 149.1L120.0 149.6L120.8 150.0L121.6 150.3L122.4 150.6L123.2 150.9L124.0 151.2L124.8 151.4L125.6 151.6L126.4 151.7L127.2 151.9L128.0 152.0L128.8 152.1L129.6 152.2L130.4 152.3L131.2 152.4L132.0 152.5L132.8 152.5L133.6 152.6L134.4 152.6L135.2 152.7L136.0 152.7L136.8 152.8L137.6 152.8L138.4 152.8L139.2 152.8L140.0 152.8L140.8 152.9L141.6 152.9L142.4 152.9L143.2 152.9L144.0 152.9L144.8 152.9L145.6 152.9L146.4 152.9L147.2 153.0L148.0 153.0L148.8 153.0L149.6 153.0L150.0 153.0L499.0 153.0L500.0 153.0L500.8 153.0L501.9 153.0L503.1 153.0L504.6 153.0L506.0 153.0L507.5 153.0L508.8 153.0L510.0 153.0L511.0 153.0L511.8 153.0L512.6 153.0L513.3 153.0L514.1 152.9L514.9 152.9L515.9 152.8L517.0 152.7L518.4 152.6L519.9 152.4L521.6 152.2L523.3 152.0L525.1 151.7L526.8 151.5L528.5 151.2L530.0 151.0L531.4 150.7L532.6 150.5L533.8 150.2L534.9 149.9L536.0 149.7L537.2 149.4L538.5 149.1L540.0 148.7L541.6 148.3L543.3 147.9L545.0 147.5L546.9 147.0L548.8 146.6L550.8 146.1L552.9 145.7L555.0 145.3L557.3 144.9L559.6 144.6L562.1 144.2L564.7 143.9L567.3 143.5L569.9 143.2L572.5 142.9L575.0 142.7L577.5 142.4L580.1 142.2L582.7 142.0L585.2 141.8L587.8 141.6L590.3 141.5L592.7 141.3L595.0 141.2L597.2 141.1L599.2 141.0L601.2 140.9L603.1 140.8L605.0 140.7L606.9 140.7L608.9 140.7L611.0 140.6L613.2 140.7L615.6 140.7L617.9 140.7L620.4 140.8L622.8 140.9L625.2 141.0L627.7 141.1L630.0 141.2L632.3 141.3L634.6 141.5L636.8 141.6L639.1 141.8L641.3 142.0L643.5 142.2L645.8 142.4L648.0 142.7L650.3 143.0L652.6 143.3L655.0 143.7L657.4 144.1L659.7 144.5L661.9 145.0L664.0 145.4L666.0 145.9L667.8 146.3L669.5 146.9L671.1 147.4L672.6 147.9L674.1 148.5L675.4 149.0L676.7 149.5L678.0 150.0L679.2 150.4L680.3 150.9L681.3 151.3L682.3 151.7L683.2 152.0L684.2 152.4L685.1 152.7L686.0 153.0L686.9 153.2L687.8 153.5L688.6 153.6L689.4 153.8L690.3 153.9L691.1 154.0L692.0 154.1L693.0 154.2L694.0 154.3L695.1 154.3L696.2 154.3L697.3 154.3L698.5 154.2L699.6 154.2L700.8 154.2L702.0 154.1L703.2 154.0L704.4 153.9L705.7 153.8L706.9 153.7L708.2 153.6L709.5 153.5L710.7 153.4L712.0 153.3L713.3 153.2L714.7 153.2L716.2 153.1L717.6 153.1L719.0 153.1L720.2 153.0L721.2 153.0L722.0 153.0L742.9 153.0" fill="none" stroke="#DF536B" stroke-width="3.4" stroke-linejoin="round" stroke-linecap="round"/>
<path d="M253 152.5H386.7M253 146.2V158.8M386.7 146.2V158.8" stroke="#000" stroke-width="3.4" fill="none" stroke-linecap="butt"/>
<text x="319.9" y="166.2" text-anchor="middle" class="rg">M region</text>
<path d="M555.1 152.5H666M555.1 146.2V158.8M666 146.2V158.8" stroke="#000" stroke-width="3.4" fill="none" stroke-linecap="butt"/>
<text x="610.5" y="166.2" text-anchor="middle" class="rg">T region</text>
<text x="101.6" y="63.3" class="pl">A</text>
<text x="102.1" y="81.7" class="nn">n = 19</text>
<rect x="76.8" y="189.29999999999998" width="691.7" height="130.2" fill="none" stroke="#222" stroke-width="1.15"/>
<line x1="67.6" y1="304.2" x2="76.8" y2="304.2" stroke="#222" stroke-width="1.15"/>
<text x="58.2" y="309.9" text-anchor="end" class="tk">0</text>
<line x1="67.6" y1="276.8" x2="76.8" y2="276.8" stroke="#222" stroke-width="1.15"/>
<text x="58.2" y="282.4" text-anchor="end" class="tk">5</text>
<line x1="67.6" y1="249.3" x2="76.8" y2="249.3" stroke="#222" stroke-width="1.15"/>
<text x="58.2" y="255.0" text-anchor="end" class="tk">10</text>
<line x1="67.6" y1="221.8" x2="76.8" y2="221.8" stroke="#222" stroke-width="1.15"/>
<text x="58.2" y="227.5" text-anchor="end" class="tk">15</text>
<line x1="67.6" y1="194.4" x2="76.8" y2="194.4" stroke="#222" stroke-width="1.15"/>
<text x="58.2" y="200.1" text-anchor="end" class="tk">20</text>
<line x1="102.4" y1="319.5" x2="102.4" y2="328.9" stroke="#222" stroke-width="1.15"/>
<line x1="230.5" y1="319.5" x2="230.5" y2="328.9" stroke="#222" stroke-width="1.15"/>
<line x1="358.6" y1="319.5" x2="358.6" y2="328.9" stroke="#222" stroke-width="1.15"/>
<line x1="486.7" y1="319.5" x2="486.7" y2="328.9" stroke="#222" stroke-width="1.15"/>
<line x1="614.8" y1="319.5" x2="614.8" y2="328.9" stroke="#222" stroke-width="1.15"/>
<line x1="742.9" y1="319.5" x2="742.9" y2="328.9" stroke="#222" stroke-width="1.15"/>
<path d="M132.1 299.2L136.4 306.7L127.8 306.7Z" fill="none" stroke="#DF536B" stroke-width="1.2"/>
<path d="M137.9 299.2L142.2 306.7L133.6 306.7Z" fill="none" stroke="#DF536B" stroke-width="1.2"/>
<path d="M141.9 299.2L146.2 306.7L137.6 306.7Z" fill="none" stroke="#DF536B" stroke-width="1.2"/>
<path d="M189.8 299.2L194.1 306.7L185.5 306.7Z" fill="none" stroke="#DF536B" stroke-width="1.2"/>
<path d="M193.7 299.2L198.0 306.7L189.4 306.7Z" fill="none" stroke="#DF536B" stroke-width="1.2"/>
<path d="M208.8 299.2L213.1 306.7L204.5 306.7Z" fill="none" stroke="#DF536B" stroke-width="1.2"/>
<path d="M215.2 299.2L219.5 306.7L210.9 306.7Z" fill="none" stroke="#DF536B" stroke-width="1.2"/>
<path d="M222.5 299.2L226.8 306.7L218.2 306.7Z" fill="none" stroke="#DF536B" stroke-width="1.2"/>
<path d="M247.5 299.2L251.8 306.7L243.2 306.7Z" fill="none" stroke="#DF536B" stroke-width="1.2"/>
<path d="M255.0 299.2L259.3 306.7L250.7 306.7Z" fill="none" stroke="#DF536B" stroke-width="1.2"/>
<path d="M280.2 299.2L284.5 306.7L275.9 306.7Z" fill="none" stroke="#DF536B" stroke-width="1.2"/>
<path d="M290.4 299.2L294.7 306.7L286.1 306.7Z" fill="none" stroke="#DF536B" stroke-width="1.2"/>
<path d="M301.9 299.2L306.2 306.7L297.6 306.7Z" fill="none" stroke="#DF536B" stroke-width="1.2"/>
<path d="M305.8 299.2L310.1 306.7L301.5 306.7Z" fill="none" stroke="#DF536B" stroke-width="1.2"/>
<path d="M315.6 299.2L319.9 306.7L311.3 306.7Z" fill="none" stroke="#DF536B" stroke-width="1.2"/>
<path d="M351.4 299.2L355.7 306.7L347.1 306.7Z" fill="none" stroke="#DF536B" stroke-width="1.2"/>
<path d="M364.5 299.2L368.8 306.7L360.2 306.7Z" fill="none" stroke="#DF536B" stroke-width="1.2"/>
<path d="M366.0 299.2L370.3 306.7L361.7 306.7Z" fill="none" stroke="#DF536B" stroke-width="1.2"/>
<path d="M376.5 299.2L380.8 306.7L372.2 306.7Z" fill="none" stroke="#DF536B" stroke-width="1.2"/>
<path d="M382.5 299.2L386.8 306.7L378.2 306.7Z" fill="none" stroke="#DF536B" stroke-width="1.2"/>
<path d="M422.3 299.2L426.6 306.7L418.0 306.7Z" fill="none" stroke="#DF536B" stroke-width="1.2"/>
<path d="M437.5 299.2L441.8 306.7L433.2 306.7Z" fill="none" stroke="#DF536B" stroke-width="1.2"/>
<path d="M441.6 299.2L445.9 306.7L437.3 306.7Z" fill="none" stroke="#DF536B" stroke-width="1.2"/>
<path d="M462.4 299.2L466.7 306.7L458.1 306.7Z" fill="none" stroke="#DF536B" stroke-width="1.2"/>
<path d="M481.2 299.2L485.5 306.7L476.9 306.7Z" fill="none" stroke="#DF536B" stroke-width="1.2"/>
<path d="M493.9 299.2L498.2 306.7L489.6 306.7Z" fill="none" stroke="#DF536B" stroke-width="1.2"/>
<path d="M499.4 299.2L503.7 306.7L495.1 306.7Z" fill="none" stroke="#DF536B" stroke-width="1.2"/>
<path d="M539.1 299.2L543.4 306.7L534.8 306.7Z" fill="none" stroke="#DF536B" stroke-width="1.2"/>
<path d="M564.9 299.2L569.2 306.7L560.6 306.7Z" fill="none" stroke="#DF536B" stroke-width="1.2"/>
<path d="M597.2 299.2L601.5 306.7L592.9 306.7Z" fill="none" stroke="#DF536B" stroke-width="1.2"/>
<path d="M620.9 299.2L625.2 306.7L616.6 306.7Z" fill="none" stroke="#DF536B" stroke-width="1.2"/>
<path d="M623.0 299.2L627.3 306.7L618.7 306.7Z" fill="none" stroke="#DF536B" stroke-width="1.2"/>
<path d="M636.0 299.2L640.3 306.7L631.7 306.7Z" fill="none" stroke="#DF536B" stroke-width="1.2"/>
<path d="M654.9 299.2L659.2 306.7L650.6 306.7Z" fill="none" stroke="#DF536B" stroke-width="1.2"/>
<path d="M667.2 299.2L671.5 306.7L662.9 306.7Z" fill="none" stroke="#DF536B" stroke-width="1.2"/>
<path d="M681.8 299.2L686.1 306.7L677.5 306.7Z" fill="none" stroke="#DF536B" stroke-width="1.2"/>
<path d="M702.2 299.2L706.5 306.7L697.9 306.7Z" fill="none" stroke="#DF536B" stroke-width="1.2"/>
<path d="M707.0 299.2L711.3 306.7L702.7 306.7Z" fill="none" stroke="#DF536B" stroke-width="1.2"/>
<path d="M713.9 299.2L718.2 306.7L709.6 306.7Z" fill="none" stroke="#DF536B" stroke-width="1.2"/>
<path d="M742.5 299.2L746.8 306.7L738.2 306.7Z" fill="none" stroke="#DF536B" stroke-width="1.2"/>
<path d="M364.5 293.7L368.8 301.2L360.2 301.2Z" fill="none" stroke="#DF536B" stroke-width="1.2"/>
<path d="M539.1 260.8L543.4 268.3L534.8 268.3Z" fill="none" stroke="#DF536B" stroke-width="1.2"/>
<path d="M560.0 266.3L564.3 273.8L555.7 273.8Z" fill="none" stroke="#DF536B" stroke-width="1.2"/>
<path d="M565.3 266.3L569.6 273.8L561.0 273.8Z" fill="none" stroke="#DF536B" stroke-width="1.2"/>
<path d="M564.9 282.7L569.2 290.2L560.6 290.2Z" fill="none" stroke="#DF536B" stroke-width="1.2"/>
<path d="M542.4 288.2L546.7 295.7L538.1 295.7Z" fill="none" stroke="#DF536B" stroke-width="1.2"/>
<path d="M559.6 288.2L563.9 295.7L555.3 295.7Z" fill="none" stroke="#DF536B" stroke-width="1.2"/>
<path d="M564.9 288.2L569.2 295.7L560.6 295.7Z" fill="none" stroke="#DF536B" stroke-width="1.2"/>
<path d="M481.2 293.7L485.5 301.2L476.9 301.2Z" fill="none" stroke="#DF536B" stroke-width="1.2"/>
<path d="M493.9 293.7L498.2 301.2L489.6 301.2Z" fill="none" stroke="#DF536B" stroke-width="1.2"/>
<path d="M517.0 293.7L521.3 301.2L512.7 301.2Z" fill="none" stroke="#DF536B" stroke-width="1.2"/>
<path d="M592.3 293.7L596.6 301.2L588.0 301.2Z" fill="none" stroke="#DF536B" stroke-width="1.2"/>
<path d="M597.6 293.7L601.9 301.2L593.3 301.2Z" fill="none" stroke="#DF536B" stroke-width="1.2"/>
<path d="M636.0 293.7L640.3 301.2L631.7 301.2Z" fill="none" stroke="#DF536B" stroke-width="1.2"/>
<path d="M102.4 304.2L103.4 304.2L104.4 304.2L105.4 304.2L106.4 304.2L107.4 304.2L108.4 304.2L109.4 304.2L110.4 304.2L111.4 304.2L112.4 304.2L113.4 304.2L114.4 304.2L115.4 304.2L116.4 304.2L117.4 304.2L118.4 304.2L119.4 304.2L120.4 304.2L121.4 304.2L122.4 304.2L123.4 304.2L124.4 304.2L125.4 304.2L126.4 304.2L127.4 304.2L128.4 304.2L129.4 304.2L130.4 304.2L131.4 304.2L132.4 304.2L133.4 304.2L134.4 304.2L135.4 304.2L136.4 304.2L137.4 304.2L138.4 304.2L139.4 304.2L140.4 304.2L141.4 304.2L142.4 304.2L143.4 304.2L144.4 304.2L145.4 304.2L146.4 304.2L147.4 304.2L148.4 304.2L149.4 304.2L150.4 304.2L151.4 304.2L152.4 304.2L153.4 304.2L154.4 304.2L155.4 304.2L156.4 304.2L157.4 304.2L158.4 304.2L159.4 304.2L160.4 304.2L161.4 304.2L162.4 304.2L163.4 304.2L164.4 304.2L165.4 304.2L166.4 304.2L167.4 304.2L168.4 304.2L169.4 304.2L170.4 304.2L171.4 304.2L172.4 304.2L173.4 304.2L174.4 304.2L175.4 304.2L176.4 304.2L177.4 304.2L178.4 304.2L179.4 304.2L180.4 304.2L181.4 304.2L182.4 304.2L183.4 304.2L184.4 304.2L185.4 304.2L186.4 304.2L187.4 304.2L188.4 304.2L189.4 304.2L190.4 304.2L191.4 304.2L192.4 304.2L193.4 304.2L194.4 304.2L195.4 304.2L196.4 304.2L197.4 304.2L198.4 304.2L199.4 304.2L200.4 304.2L201.4 304.2L202.4 304.2L203.4 304.2L204.4 304.2L205.4 304.2L206.4 304.2L207.4 304.2L208.4 304.2L209.4 304.2L210.4 304.2L211.4 304.2L212.4 304.2L213.4 304.2L214.4 304.2L215.4 304.2L216.4 304.2L217.4 304.2L218.4 304.2L219.4 304.2L220.4 304.2L221.4 304.2L222.4 304.2L223.4 304.2L224.4 304.2L225.4 304.2L226.4 304.2L227.4 304.2L228.4 304.2L229.4 304.2L230.4 304.2L231.4 304.2L232.4 304.2L233.4 304.2L234.4 304.2L235.4 304.2L236.4 304.2L237.4 304.2L238.4 304.2L239.4 304.2L240.4 304.2L241.4 304.2L242.4 304.2L243.4 304.2L244.4 304.2L245.4 304.2L246.4 304.2L247.4 304.2L248.4 304.2L249.4 304.2L250.4 304.2L251.4 304.2L252.4 304.2L253.4 304.2L254.4 304.2L255.4 304.2L256.4 304.2L257.4 304.2L258.4 304.2L259.4 304.2L260.4 304.2L261.4 304.2L262.4 304.2L263.4 304.2L264.4 304.2L265.4 304.2L266.4 304.2L267.4 304.2L268.4 304.2L269.4 304.2L270.4 304.2L271.4 304.2L272.4 304.2L273.4 304.2L274.4 304.2L275.4 304.2L276.4 304.2L277.4 304.2L278.4 304.2L279.4 304.2L280.4 304.2L281.4 304.2L282.4 304.2L283.4 304.2L284.4 304.2L285.4 304.2L286.4 304.2L287.4 304.2L288.4 304.2L289.4 304.2L290.4 304.2L291.4 304.2L292.4 304.2L293.4 304.2L294.4 304.2L295.4 304.2L296.4 304.2L297.4 304.2L298.4 304.2L299.4 304.2L300.4 304.2L301.4 304.2L302.4 304.2L303.4 304.2L304.4 304.2L305.4 304.2L306.4 304.2L307.4 304.2L308.4 304.2L309.4 304.2L310.4 304.2L311.4 304.2L312.4 304.2L313.4 304.2L314.4 304.2L315.4 304.2L316.4 304.2L317.4 304.2L318.4 304.2L319.4 304.2L320.4 304.2L321.4 304.2L322.4 304.2L323.4 304.2L324.4 304.2L325.4 304.2L326.4 304.2L327.4 304.2L328.4 304.2L329.4 304.2L330.4 304.2L331.4 304.2L332.4 304.2L333.4 304.2L334.4 304.2L335.4 304.2L336.4 304.2L337.4 304.2L338.4 304.2L339.4 304.2L340.4 304.2L341.4 304.2L342.4 304.2L343.4 304.2L344.4 304.2L345.4 304.2L346.4 304.2L347.4 304.2L348.4 304.2L349.4 304.2L350.4 304.2L351.4 304.2L352.4 304.2L353.4 304.2L354.4 304.2L355.4 304.2L356.4 304.2L357.4 304.2L358.4 304.2L359.4 304.2L360.4 304.2L361.4 304.2L362.4 304.2L363.4 304.2L364.4 304.2L365.4 304.2L366.4 304.2L367.4 304.2L368.4 304.2L369.4 304.2L370.4 304.2L371.4 304.2L372.4 304.2L373.4 304.2L374.4 304.2L375.4 304.2L376.4 304.2L377.4 304.2L378.4 304.2L379.4 304.2L380.4 304.2L381.4 304.2L382.4 304.2L383.4 304.2L384.4 304.2L385.4 304.2L386.4 304.2L387.4 304.2L388.4 304.2L389.4 304.2L390.4 304.2L391.4 304.2L392.4 304.2L393.4 304.2L394.4 304.2L395.4 304.2L396.4 304.2L397.4 304.2L398.4 304.2L399.4 304.2L400.4 304.2L401.4 304.2L402.4 304.2L403.4 304.2L404.4 304.2L405.4 304.2L406.4 304.2L407.4 304.2L408.4 304.2L409.4 304.2L410.4 304.2L411.4 304.2L412.4 304.2L413.4 304.2L414.4 304.2L415.4 304.2L416.4 304.2L417.4 304.2L418.4 304.2L419.4 304.2L420.4 304.2L421.4 304.2L422.4 304.2L423.4 304.2L424.4 304.2L425.4 304.2L426.4 304.2L427.4 304.2L428.4 304.2L429.4 304.2L430.4 304.2L431.4 304.2L432.4 304.2L433.4 304.2L434.4 304.2L435.4 304.2L436.4 304.2L437.4 304.2L438.4 304.2L439.4 304.2L440.4 304.2L441.4 304.2L442.4 304.2L443.4 304.2L444.4 304.2L445.4 304.2L446.4 304.2L447.4 304.2L448.4 304.2L449.4 304.2L450.4 304.2L451.4 304.2L452.4 304.2L453.4 304.2L454.4 304.2L455.4 304.2L456.4 304.2L457.4 304.2L458.4 304.2L459.4 304.2L460.4 304.2L461.4 304.2L462.4 304.2L463.4 304.2L464.4 304.2L465.4 304.2L466.4 304.2L467.4 304.2L468.4 304.2L469.4 304.1L470.4 304.1L471.4 304.1L472.4 304.1L473.4 304.1L474.4 304.1L475.4 304.1L476.4 304.1L477.4 304.1L478.4 304.0L479.4 304.0L480.4 304.0L481.4 304.0L482.4 303.9L483.4 303.9L484.4 303.9L485.4 303.8L486.4 303.8L487.4 303.7L488.4 303.7L489.4 303.6L490.4 303.5L491.4 303.5L492.4 303.4L493.4 303.3L494.4 303.2L495.4 303.1L496.4 303.0L497.4 302.9L498.4 302.7L499.4 302.6L500.4 302.5L501.4 302.3L502.4 302.1L503.4 301.9L504.4 301.7L505.4 301.5L506.4 301.3L507.4 301.1L508.4 300.8L509.4 300.6L510.4 300.3L511.4 300.0L512.4 299.7L513.4 299.4L514.4 299.1L515.4 298.8L516.4 298.4L517.4 298.1L518.4 297.7L519.4 297.3L520.4 296.9L521.4 296.5L522.4 296.1L523.4 295.7L524.4 295.3L525.4 294.8L526.4 294.4L527.4 294.0L528.4 293.5L529.4 293.1L530.4 292.6L531.4 292.2L532.4 291.8L533.4 291.3L534.4 290.9L535.4 290.5L536.4 290.1L537.4 289.7L538.4 289.3L539.4 289.0L540.4 288.6L541.4 288.3L542.4 288.0L543.4 287.7L544.4 287.5L545.4 287.2L546.4 287.0L547.4 286.9L548.4 286.7L549.4 286.6L550.4 286.5L551.4 286.4L552.4 286.4L553.4 286.4L554.4 286.4L555.4 286.4L556.4 286.5L557.4 286.6L558.4 286.8L559.4 286.9L560.4 287.1L561.4 287.3L562.4 287.6L563.4 287.8L564.4 288.1L565.4 288.4L566.4 288.8L567.4 289.1L568.4 289.5L569.4 289.9L570.4 290.3L571.4 290.7L572.4 291.1L573.4 291.5L574.4 291.9L575.4 292.4L576.4 292.8L577.4 293.2L578.4 293.7L579.4 294.1L580.4 294.6L581.4 295.0L582.4 295.4L583.4 295.9L584.4 296.3L585.4 296.7L586.4 297.1L587.4 297.5L588.4 297.8L589.4 298.2L590.4 298.6L591.4 298.9L592.4 299.2L593.4 299.6L594.4 299.9L595.4 300.2L596.4 300.4L597.4 300.7L598.4 300.9L599.4 301.2L600.4 301.4L601.4 301.6L602.4 301.8L603.4 302.0L604.4 302.2L605.4 302.4L606.4 302.5L607.4 302.7L608.4 302.8L609.4 302.9L610.4 303.0L611.4 303.1L612.4 303.2L613.4 303.3L614.4 303.4L615.4 303.5L616.4 303.6L617.4 303.6L618.4 303.7L619.4 303.7L620.4 303.8L621.4 303.8L622.4 303.9L623.4 303.9L624.4 303.9L625.4 304.0L626.4 304.0L627.4 304.0L628.4 304.0L629.4 304.1L630.4 304.1L631.4 304.1L632.4 304.1L633.4 304.1L634.4 304.1L635.4 304.1L636.4 304.1L637.4 304.2L638.4 304.2L639.4 304.2L640.4 304.2L641.4 304.2L642.4 304.2L643.4 304.2L644.4 304.2L645.4 304.2L646.4 304.2L647.4 304.2L648.4 304.2L649.4 304.2L650.4 304.2L651.4 304.2L652.4 304.2L653.4 304.2L654.4 304.2L655.4 304.2L656.4 304.2L657.4 304.2L658.4 304.2L659.4 304.2L660.4 304.2L661.4 304.2L662.4 304.2L663.4 304.2L664.4 304.2L665.4 304.2L666.4 304.2L667.4 304.2L668.4 304.2L669.4 304.2L670.4 304.2L671.4 304.2L672.4 304.2L673.4 304.2L674.4 304.2L675.4 304.2L676.4 304.2L677.4 304.2L678.4 304.2L679.4 304.2L680.4 304.2L681.4 304.2L682.4 304.2L683.4 304.2L684.4 304.2L685.4 304.2L686.4 304.2L687.4 304.2L688.4 304.2L689.4 304.2L690.4 304.2L691.4 304.2L692.4 304.2L693.4 304.2L694.4 304.2L695.4 304.2L696.4 304.2L697.4 304.2L698.4 304.2L699.4 304.2L700.4 304.2L701.4 304.2L702.4 304.2L703.4 304.2L704.4 304.2L705.4 304.2L706.4 304.2L707.4 304.2L708.4 304.2L709.4 304.2L710.4 304.2L711.4 304.2L712.4 304.2L713.4 304.2L714.4 304.2L715.4 304.2L716.4 304.2L717.4 304.2L718.4 304.2L719.4 304.2L720.4 304.2L721.4 304.2L722.4 304.2L723.4 304.2L724.4 304.2L725.4 304.2L726.4 304.2L727.4 304.2L728.4 304.2L729.4 304.2L730.4 304.2L731.4 304.2L732.4 304.2L733.4 304.2L734.4 304.2L735.4 304.2L736.4 304.2L737.4 304.2L738.4 304.2L739.4 304.2L740.4 304.2L741.4 304.2L742.4 304.2" fill="none" stroke="#DF536B" stroke-width="3.4" stroke-linejoin="round" stroke-linecap="round"/>
<path d="M508.9 304.0H589.7M508.9 297.7V310.3M589.7 297.7V310.3" stroke="#000" stroke-width="3.4" fill="none" stroke-linecap="butt"/>
<text x="549.3" y="316.9" text-anchor="middle" class="rg">T region</text>
<text x="101.6" y="214.5" class="pl">B</text>
<text x="102.1" y="232.9" class="nn">n = 10</text>
<rect x="76.8" y="340.5" width="691.7" height="130.2" fill="none" stroke="#222" stroke-width="1.15"/>
<line x1="67.6" y1="455.4" x2="76.8" y2="455.4" stroke="#222" stroke-width="1.15"/>
<text x="58.2" y="461.1" text-anchor="end" class="tk">0</text>
<line x1="67.6" y1="427.9" x2="76.8" y2="427.9" stroke="#222" stroke-width="1.15"/>
<text x="58.2" y="433.6" text-anchor="end" class="tk">5</text>
<line x1="67.6" y1="400.5" x2="76.8" y2="400.5" stroke="#222" stroke-width="1.15"/>
<text x="58.2" y="406.2" text-anchor="end" class="tk">10</text>
<line x1="67.6" y1="373.0" x2="76.8" y2="373.0" stroke="#222" stroke-width="1.15"/>
<text x="58.2" y="378.7" text-anchor="end" class="tk">15</text>
<line x1="67.6" y1="345.6" x2="76.8" y2="345.6" stroke="#222" stroke-width="1.15"/>
<text x="58.2" y="351.3" text-anchor="end" class="tk">20</text>
<line x1="102.4" y1="470.7" x2="102.4" y2="480.1" stroke="#222" stroke-width="1.15"/>
<text x="102.4" y="503.7" text-anchor="middle" class="tk">0.0</text>
<line x1="230.5" y1="470.7" x2="230.5" y2="480.1" stroke="#222" stroke-width="1.15"/>
<text x="230.5" y="503.7" text-anchor="middle" class="tk">0.2</text>
<line x1="358.6" y1="470.7" x2="358.6" y2="480.1" stroke="#222" stroke-width="1.15"/>
<text x="358.6" y="503.7" text-anchor="middle" class="tk">0.4</text>
<line x1="486.7" y1="470.7" x2="486.7" y2="480.1" stroke="#222" stroke-width="1.15"/>
<text x="486.7" y="503.7" text-anchor="middle" class="tk">0.6</text>
<line x1="614.8" y1="470.7" x2="614.8" y2="480.1" stroke="#222" stroke-width="1.15"/>
<text x="614.8" y="503.7" text-anchor="middle" class="tk">0.8</text>
<line x1="742.9" y1="470.7" x2="742.9" y2="480.1" stroke="#222" stroke-width="1.15"/>
<text x="742.9" y="503.7" text-anchor="middle" class="tk">1.0</text>
<circle cx="250.5" cy="411.5" r="3.1" fill="none" stroke="#000" stroke-width="1.1"/>
<circle cx="247.5" cy="422.5" r="3.1" fill="none" stroke="#000" stroke-width="1.1"/>
<circle cx="262.2" cy="444.4" r="3.1" fill="none" stroke="#000" stroke-width="1.1"/>
<circle cx="270.4" cy="449.9" r="3.1" fill="none" stroke="#000" stroke-width="1.1"/>
<circle cx="280.6" cy="449.9" r="3.1" fill="none" stroke="#000" stroke-width="1.1"/>
<circle cx="306.0" cy="406.0" r="3.1" fill="none" stroke="#000" stroke-width="1.1"/>
<circle cx="364.1" cy="417.0" r="3.1" fill="none" stroke="#000" stroke-width="1.1"/>
<circle cx="309.9" cy="438.9" r="3.1" fill="none" stroke="#000" stroke-width="1.1"/>
<circle cx="342.6" cy="444.4" r="3.1" fill="none" stroke="#000" stroke-width="1.1"/>
<circle cx="315.8" cy="449.9" r="3.1" fill="none" stroke="#000" stroke-width="1.1"/>
<circle cx="369.4" cy="449.9" r="3.1" fill="none" stroke="#000" stroke-width="1.1"/>
<circle cx="422.3" cy="449.9" r="3.1" fill="none" stroke="#000" stroke-width="1.1"/>
<circle cx="428.1" cy="449.9" r="3.1" fill="none" stroke="#000" stroke-width="1.1"/>
<circle cx="128.5" cy="455.4" r="3.1" fill="none" stroke="#000" stroke-width="1.1"/>
<circle cx="130.3" cy="455.4" r="3.1" fill="none" stroke="#000" stroke-width="1.1"/>
<circle cx="132.0" cy="455.4" r="3.1" fill="none" stroke="#000" stroke-width="1.1"/>
<circle cx="133.8" cy="455.4" r="3.1" fill="none" stroke="#000" stroke-width="1.1"/>
<circle cx="135.5" cy="455.4" r="3.1" fill="none" stroke="#000" stroke-width="1.1"/>
<circle cx="137.5" cy="455.4" r="3.1" fill="none" stroke="#000" stroke-width="1.1"/>
<circle cx="139.5" cy="455.4" r="3.1" fill="none" stroke="#000" stroke-width="1.1"/>
<circle cx="141.0" cy="455.4" r="3.1" fill="none" stroke="#000" stroke-width="1.1"/>
<circle cx="182.0" cy="455.4" r="3.1" fill="none" stroke="#000" stroke-width="1.1"/>
<circle cx="187.8" cy="455.4" r="3.1" fill="none" stroke="#000" stroke-width="1.1"/>
<circle cx="190.8" cy="455.4" r="3.1" fill="none" stroke="#000" stroke-width="1.1"/>
<circle cx="192.7" cy="455.4" r="3.1" fill="none" stroke="#000" stroke-width="1.1"/>
<circle cx="198.6" cy="455.4" r="3.1" fill="none" stroke="#000" stroke-width="1.1"/>
<circle cx="203.5" cy="455.4" r="3.1" fill="none" stroke="#000" stroke-width="1.1"/>
<circle cx="208.8" cy="455.4" r="3.1" fill="none" stroke="#000" stroke-width="1.1"/>
<circle cx="235.4" cy="455.4" r="3.1" fill="none" stroke="#000" stroke-width="1.1"/>
<circle cx="254.4" cy="455.4" r="3.1" fill="none" stroke="#000" stroke-width="1.1"/>
<circle cx="288.4" cy="455.4" r="3.1" fill="none" stroke="#000" stroke-width="1.1"/>
<circle cx="326.4" cy="455.4" r="3.1" fill="none" stroke="#000" stroke-width="1.1"/>
<circle cx="338.1" cy="455.4" r="3.1" fill="none" stroke="#000" stroke-width="1.1"/>
<circle cx="351.4" cy="455.4" r="3.1" fill="none" stroke="#000" stroke-width="1.1"/>
<circle cx="376.5" cy="455.4" r="3.1" fill="none" stroke="#000" stroke-width="1.1"/>
<circle cx="390.6" cy="455.4" r="3.1" fill="none" stroke="#000" stroke-width="1.1"/>
<circle cx="395.9" cy="455.4" r="3.1" fill="none" stroke="#000" stroke-width="1.1"/>
<circle cx="405.2" cy="455.4" r="3.1" fill="none" stroke="#000" stroke-width="1.1"/>
<circle cx="422.3" cy="455.4" r="3.1" fill="none" stroke="#000" stroke-width="1.1"/>
<circle cx="437.5" cy="455.4" r="3.1" fill="none" stroke="#000" stroke-width="1.1"/>
<circle cx="448.7" cy="455.4" r="3.1" fill="none" stroke="#000" stroke-width="1.1"/>
<circle cx="454.6" cy="455.4" r="3.1" fill="none" stroke="#000" stroke-width="1.1"/>
<circle cx="472.9" cy="455.4" r="3.1" fill="none" stroke="#000" stroke-width="1.1"/>
<circle cx="480.8" cy="455.4" r="3.1" fill="none" stroke="#000" stroke-width="1.1"/>
<circle cx="485.7" cy="455.4" r="3.1" fill="none" stroke="#000" stroke-width="1.1"/>
<circle cx="488.6" cy="455.4" r="3.1" fill="none" stroke="#000" stroke-width="1.1"/>
<circle cx="493.5" cy="455.4" r="3.1" fill="none" stroke="#000" stroke-width="1.1"/>
<circle cx="499.4" cy="455.4" r="3.1" fill="none" stroke="#000" stroke-width="1.1"/>
<circle cx="502.3" cy="455.4" r="3.1" fill="none" stroke="#000" stroke-width="1.1"/>
<circle cx="518.9" cy="455.4" r="3.1" fill="none" stroke="#000" stroke-width="1.1"/>
<circle cx="538.5" cy="455.4" r="3.1" fill="none" stroke="#000" stroke-width="1.1"/>
<circle cx="541.4" cy="455.4" r="3.1" fill="none" stroke="#000" stroke-width="1.1"/>
<circle cx="547.3" cy="455.4" r="3.1" fill="none" stroke="#000" stroke-width="1.1"/>
<circle cx="555.1" cy="455.4" r="3.1" fill="none" stroke="#000" stroke-width="1.1"/>
<circle cx="559.0" cy="455.4" r="3.1" fill="none" stroke="#000" stroke-width="1.1"/>
<circle cx="562.0" cy="455.4" r="3.1" fill="none" stroke="#000" stroke-width="1.1"/>
<circle cx="564.9" cy="455.4" r="3.1" fill="none" stroke="#000" stroke-width="1.1"/>
<circle cx="581.9" cy="455.4" r="3.1" fill="none" stroke="#000" stroke-width="1.1"/>
<circle cx="597.2" cy="455.4" r="3.1" fill="none" stroke="#000" stroke-width="1.1"/>
<circle cx="605.0" cy="455.4" r="3.1" fill="none" stroke="#000" stroke-width="1.1"/>
<circle cx="608.0" cy="455.4" r="3.1" fill="none" stroke="#000" stroke-width="1.1"/>
<circle cx="609.9" cy="455.4" r="3.1" fill="none" stroke="#000" stroke-width="1.1"/>
<circle cx="620.6" cy="455.4" r="3.1" fill="none" stroke="#000" stroke-width="1.1"/>
<circle cx="635.8" cy="455.4" r="3.1" fill="none" stroke="#000" stroke-width="1.1"/>
<circle cx="646.7" cy="455.4" r="3.1" fill="none" stroke="#000" stroke-width="1.1"/>
<circle cx="655.5" cy="455.4" r="3.1" fill="none" stroke="#000" stroke-width="1.1"/>
<circle cx="665.7" cy="455.4" r="3.1" fill="none" stroke="#000" stroke-width="1.1"/>
<circle cx="674.4" cy="455.4" r="3.1" fill="none" stroke="#000" stroke-width="1.1"/>
<circle cx="681.8" cy="455.4" r="3.1" fill="none" stroke="#000" stroke-width="1.1"/>
<circle cx="706.7" cy="455.4" r="3.1" fill="none" stroke="#000" stroke-width="1.1"/>
<circle cx="709.6" cy="455.4" r="3.1" fill="none" stroke="#000" stroke-width="1.1"/>
<circle cx="712.5" cy="455.4" r="3.1" fill="none" stroke="#000" stroke-width="1.1"/>
<circle cx="714.5" cy="455.4" r="3.1" fill="none" stroke="#000" stroke-width="1.1"/>
<circle cx="725.2" cy="455.4" r="3.1" fill="none" stroke="#000" stroke-width="1.1"/>
<circle cx="742.5" cy="455.4" r="3.1" fill="none" stroke="#000" stroke-width="1.1"/>
<path d="M103.4 455.4L113.7 455.4M129.7 455.4L140.0 455.4M156.3 455.4L166.6 455.4M182.7 455.4L193.0 455.4M209.1 455.3L219.4 454.8M233.1 447.2L239.5 441.4M255.0 437.1L263.2 439.2M278.6 443.4L289.1 444.9M303.6 444.3L313.5 443.2M329.6 442.1L339.9 442.5M354.4 445.0L365.5 448.3M377.6 450.2L389.8 451.6M405.0 452.9L415.3 452.5M430.4 453.2L440.7 454.5M455.9 455.4L466.2 455.4M480.5 455.4L491.8 455.4M506.9 455.4L519.2 455.4M534.3 455.4L544.6 455.4M559.7 455.4L572.0 455.4M587.2 455.4L597.5 455.4M612.7 455.4L624.7 455.4M640.8 455.4L651.1 455.4M666.3 455.4L676.6 455.4M692.7 455.4L704.0 455.4M719.1 455.4L729.4 455.4" fill="none" stroke="#000" stroke-width="3.4" stroke-linecap="round"/>
<path d="M244.2 455.5H373.9M244.2 449.2V461.8M373.9 449.2V461.8" stroke="#000" stroke-width="3.4" fill="none" stroke-linecap="butt"/>
<text x="309.0" y="467.9" text-anchor="middle" class="rg">M region</text>
<text x="101.6" y="365.7" class="pl">C</text>
<text x="102.1" y="384.1" class="nn">n = 7</text>
<rect x="569" y="343.6" width="186.1" height="37.2" fill="#fff" stroke="#222" stroke-width="1.2"/>
<path d="M571.3 355.9H576.3M589.8 355.9H591.5" stroke="#000" stroke-width="2.1"/>
<circle cx="581.4" cy="355.9" r="1.8" fill="#666" stroke="#000" stroke-width="1"/>
<path d="M571.3 368.7H591.8" stroke="#DF536B" stroke-width="1"/>
<path d="M581.4 365.9L584.3 370.6L578.5 370.6Z" fill="#fff" stroke="#DF536B" stroke-width="0.9"/>
<text x="600.8" y="359.0" class="lg">Mesidionema praecomasculatis</text>
<text x="600.8" y="372.4" class="lg">Thelastoma endoscolicum</text>
<text x="422.3" y="521.5" text-anchor="middle" class="ax">earthworm gut region</text>
<text transform="translate(36.7 254.6) rotate(-90)" text-anchor="middle" class="ax">parasite abundance</text>
<rect x="845.3" y="37.4" width="142.6" height="433.4" fill="none" stroke="#222" stroke-width="1.15"/>
<line x1="836.6" y1="90.8" x2="845.3" y2="90.8" stroke="#222" stroke-width="1.15"/>
<text x="826.6" y="96.5" text-anchor="end" class="tk">0</text>
<line x1="836.6" y1="212.0" x2="845.3" y2="212.0" stroke="#222" stroke-width="1.15"/>
<text x="826.6" y="217.7" text-anchor="end" class="tk">-5</text>
<line x1="836.6" y1="333.2" x2="845.3" y2="333.2" stroke="#222" stroke-width="1.15"/>
<text x="826.6" y="338.9" text-anchor="end" class="tk">-10</text>
<line x1="836.6" y1="454.4" x2="845.3" y2="454.4" stroke="#222" stroke-width="1.15"/>
<text x="826.6" y="460.1" text-anchor="end" class="tk">-15</text>
<line x1="883.5" y1="470.8" x2="883.5" y2="480.2" stroke="#222" stroke-width="1.15"/>
<text x="883.5" y="503.6" text-anchor="middle" class="tk">M</text>
<text x="883.5" y="521.2" text-anchor="middle" class="tk">region</text>
<line x1="949.5" y1="470.8" x2="949.5" y2="480.2" stroke="#222" stroke-width="1.15"/>
<text x="949.5" y="503.6" text-anchor="middle" class="tk">T</text>
<text x="949.5" y="521.2" text-anchor="middle" class="tk">region</text>
<text transform="translate(797.7 254.7) rotate(-90)" text-anchor="middle" class="ax">-log2 relative gut bacteria abundance (delta Ct)</text>
<rect x="873.7" y="286.3" width="19.8" height="74.7" fill="none" stroke="#111" stroke-width="1.2"/>
<line x1="873.7" x2="893.5" y1="347.4" y2="347.4" stroke="#000" stroke-width="2.7"/>
<path d="M883.6 260.5V286.3M883.6 361.0V375.9" stroke="#111" stroke-width="1.25" stroke-dasharray="3.0 2.8" fill="none"/>
<path d="M879.3000000000001 260.5H887.9M879.3000000000001 375.9H887.9" stroke="#111" stroke-width="1.1" fill="none"/>
<circle cx="883.6" cy="260.5" r="2.8" fill="none" stroke="#111" stroke-width="1.15"/>
<circle cx="883.6" cy="286.3" r="2.8" fill="none" stroke="#111" stroke-width="1.15"/>
<circle cx="883.6" cy="337.4" r="2.8" fill="none" stroke="#111" stroke-width="1.15"/>
<circle cx="883.6" cy="358.0" r="2.8" fill="none" stroke="#111" stroke-width="1.15"/>
<circle cx="883.6" cy="360.3" r="2.8" fill="none" stroke="#111" stroke-width="1.15"/>
<circle cx="883.6" cy="375.9" r="2.8" fill="none" stroke="#111" stroke-width="1.15"/>
<rect x="939.3000000000001" y="114.3" width="20.6" height="16.9" fill="none" stroke="#111" stroke-width="1.2"/>
<line x1="939.3000000000001" x2="959.9" y1="116.4" y2="116.4" stroke="#000" stroke-width="2.7"/>
<path d="M949.6 100.2V114.3M949.6 131.2V149.1" stroke="#111" stroke-width="1.25" stroke-dasharray="3.0 2.8" fill="none"/>
<path d="M945.3000000000001 100.2H953.9M945.3000000000001 149.1H953.9" stroke="#111" stroke-width="1.1" fill="none"/>
<circle cx="949.6" cy="100.2" r="2.8" fill="none" stroke="#111" stroke-width="1.15"/>
<circle cx="949.6" cy="113.6" r="2.8" fill="none" stroke="#111" stroke-width="1.15"/>
<circle cx="949.6" cy="118.8" r="2.8" fill="none" stroke="#111" stroke-width="1.15"/>
<circle cx="949.6" cy="131.2" r="2.8" fill="none" stroke="#111" stroke-width="1.15"/>
<circle cx="949.6" cy="149.1" r="2.8" fill="none" stroke="#111" stroke-width="1.15"/>
<line x1="883.2" x2="950" y1="90.8" y2="90.8" stroke="#222" stroke-width="1.1"/>
<text x="916" y="82.6" text-anchor="middle" class="pv">P = 0.004</text>
<text x="964.6" y="63.5" class="pl">D</text>
</svg>
</body></html>
